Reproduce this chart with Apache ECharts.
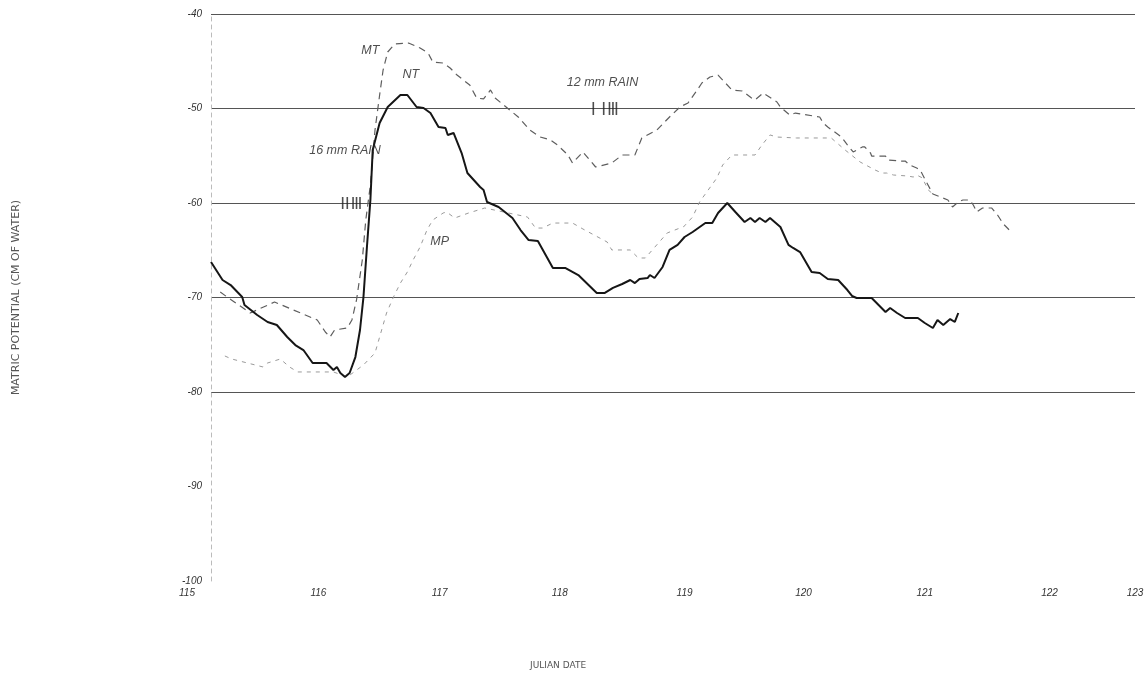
<!DOCTYPE html>
<html>
<head>
<meta charset="utf-8">
<script src="https://cdn.jsdelivr.net/npm/echarts@6/dist/echarts.min.js"></script>
<style>
  html, body { margin: 0; padding: 0; background: #ffffff; }
  #chart { width: 1148px; height: 682px; }
</style>
</head>
<body>
<div id="chart"></div>
<script>
// ---------- DATA ----------
const xTicks = [115, 116, 117, 118, 119, 120, 121, 122, 123];
const yTicks = [-100, -90, -80, -70, -60, -50, -40];

// NT, solid (Julian date, matric potential cm of water)
const ntSolid = [
  [115.00,-66.24],[115.10,-68.15],[115.17,-68.68],[115.27,-69.95],[115.29,-70.79],[115.40,-71.85],
  [115.49,-72.59],[115.57,-72.91],[115.66,-74.18],[115.73,-75.03],[115.80,-75.56],[115.88,-76.93],
  [116.00,-76.93],[116.06,-77.67],[116.09,-77.35],[116.12,-77.99],[116.16,-78.41],[116.20,-77.99],
  [116.25,-76.30],[116.29,-73.44],[116.32,-69.95],[116.35,-64.66],[116.38,-59.68],[116.40,-54.39],
  [116.46,-51.53],[116.53,-49.84],[116.64,-48.57],[116.70,-48.57],[116.78,-49.84],[116.84,-49.95],
  [116.90,-50.48],[116.97,-51.96],[117.03,-52.06],[117.05,-52.80],[117.10,-52.59],[117.17,-54.71],
  [117.22,-56.83],[117.33,-58.31],[117.36,-58.62],[117.39,-59.89],[117.49,-60.42],[117.61,-61.59],
  [117.68,-62.86],[117.75,-63.92],[117.83,-64.02],[117.96,-66.88],[118.07,-66.88],[118.18,-67.62],
  [118.34,-69.52],[118.41,-69.52],[118.48,-68.99],[118.56,-68.57],[118.63,-68.15],[118.67,-68.47],
  [118.71,-68.04],[118.78,-67.94],[118.80,-67.62],[118.84,-67.94],[118.91,-66.77],[118.97,-64.97],
  [119.04,-64.44],[119.10,-63.60],[119.17,-63.07],[119.28,-62.12],[119.34,-62.12],[119.39,-61.06],
  [119.47,-60.00],[119.54,-60.95],[119.62,-62.01],[119.67,-61.59],[119.71,-62.01],[119.75,-61.59],
  [119.80,-62.01],[119.84,-61.59],[119.93,-62.54],[120.00,-64.44],[120.04,-64.76],[120.10,-65.19],
  [120.20,-67.30],[120.27,-67.41],[120.34,-68.04],[120.43,-68.15],[120.51,-69.21],[120.55,-69.84],
  [120.59,-70.05],[120.72,-70.05],[120.84,-71.53],[120.88,-71.11],[120.94,-71.64],[121.01,-72.17],
  [121.12,-72.17],[121.18,-72.70],[121.25,-73.23],[121.29,-72.38],[121.34,-72.91],[121.40,-72.28],
  [121.44,-72.59],[121.47,-71.64]
];

// upper dashed curve
const mtDashed = [
  [115.08,-69.42],[115.14,-69.95],[115.34,-71.64],[115.55,-70.48],[115.92,-72.38],[115.99,-73.65],
  [116.03,-74.18],[116.07,-73.44],[116.18,-73.23],[116.22,-72.38],[116.26,-70.26],[116.31,-66.03],
  [116.34,-61.80],[116.38,-58.10],[116.42,-52.28],[116.46,-48.57],[116.49,-45.93],[116.53,-44.02],
  [116.59,-43.17],[116.71,-43.07],[116.81,-43.60],[116.88,-44.13],[116.92,-45.08],[117.01,-45.19],
  [117.07,-45.71],[117.13,-46.46],[117.24,-47.51],[117.30,-48.89],[117.36,-48.99],[117.42,-48.04],
  [117.46,-48.89],[117.66,-50.90],[117.76,-52.28],[117.85,-53.02],[117.94,-53.33],[118.00,-53.86],
  [118.09,-54.92],[118.13,-55.77],[118.22,-54.60],[118.33,-56.19],[118.47,-55.77],[118.56,-54.92],
  [118.67,-54.92],[118.73,-53.12],[118.86,-52.28],[118.97,-50.90],[119.06,-49.84],[119.13,-49.42],
  [119.21,-48.04],[119.25,-47.30],[119.32,-46.67],[119.39,-46.46],[119.51,-48.04],[119.60,-48.15],
  [119.68,-48.89],[119.71,-49.10],[119.78,-48.36],[119.90,-49.31],[119.93,-49.84],[120.01,-50.69],
  [120.06,-50.48],[120.27,-50.90],[120.30,-51.53],[120.34,-51.96],[120.46,-53.02],[120.51,-53.86],
  [120.56,-54.60],[120.64,-54.07],[120.66,-54.07],[120.71,-54.71],[120.72,-55.03],[120.84,-55.03],
  [120.86,-55.45],[120.97,-55.56],[121.01,-55.56],[121.05,-55.98],[121.11,-56.30],[121.14,-56.51],
  [121.18,-57.46],[121.25,-59.05],[121.38,-59.68],[121.42,-60.42],[121.47,-59.89],[121.51,-59.68],
  [121.57,-59.68],[121.60,-60.21],[121.63,-60.95],[121.68,-60.53],[121.76,-60.53],[121.81,-61.27],
  [121.86,-62.22],[121.92,-62.96]
];

// MP, lighter dashed curve
const mpDashed = [
  [115.12,-76.19],[115.18,-76.51],[115.45,-77.35],[115.49,-76.93],[115.60,-76.51],[115.68,-77.35],
  [115.75,-77.88],[116.06,-77.88],[116.18,-78.41],[116.32,-77.14],[116.42,-75.87],[116.46,-74.18],
  [116.52,-71.64],[116.58,-69.95],[116.64,-68.47],[116.70,-67.30],[116.75,-66.03],[116.81,-64.66],
  [116.87,-62.86],[116.92,-61.80],[117.01,-61.06],[117.04,-60.95],[117.11,-61.59],[117.23,-61.06],
  [117.37,-60.53],[117.74,-61.48],[117.81,-62.65],[117.87,-62.65],[117.96,-62.12],[118.13,-62.12],
  [118.22,-62.75],[118.43,-64.13],[118.47,-64.97],[118.63,-64.97],[118.70,-65.82],[118.76,-65.82],
  [118.95,-63.17],[119.06,-62.65],[119.09,-62.54],[119.17,-61.48],[119.23,-59.89],[119.38,-57.35],
  [119.43,-55.98],[119.51,-54.92],[119.71,-54.92],[119.77,-53.86],[119.84,-52.80],[119.90,-53.02],
  [120.07,-53.12],[120.17,-53.12],[120.37,-53.12],[120.49,-54.39],[120.62,-55.66],[120.75,-56.51],
  [120.81,-56.83],[120.85,-56.83],[120.91,-57.04],[121.03,-57.14],[121.08,-57.25],[121.11,-57.04],
  [121.16,-57.35],[121.18,-57.88],[121.21,-58.62],[121.25,-59.05]
];

// rain events (Julian date of each tick mark, drawn on the nearby grid line)
const rain16Times = [116.14, 116.18, 116.23, 116.26, 116.29];
const rain16Level = -60;
const rain12Times = [118.31, 118.40, 118.45, 118.48, 118.51];
const rain12Level = -50;

// annotation texts
const annotationTexts = ['16 mm RAIN', '12 mm RAIN', 'NT', 'MT', 'MP'];

// ---------- LAYOUT (positions of annotation texts / label nudges) ----------
const annotationPos = [[116.16,-54.4],[118.39,-47.2],[116.73,-46.4],[116.38,-43.9],[116.98,-64.1]];
const xLabelNudge = [0, -0.07, -0.02, 0.02, 0.10, 0.13, 0.18, 0.26, 0];

const chart = echarts.init(document.getElementById('chart'), null, { renderer: 'canvas' });

const labelFont = { fontFamily: 'Liberation Sans, Arial, sans-serif', fontStyle: 'italic', fontSize: 10, color: '#333' };

const option = {
  backgroundColor: '#ffffff',
  animation: false,
  grid: { left: 211, right: 13, top: 14, bottom: 101, containLabel: false },
  xAxis: {
    type: 'value',
    min: 115, max: 123, interval: 1,
    axisLine: { show: false },
    axisTick: { show: false },
    splitLine: { show: false },
    axisLabel: Object.assign({}, labelFont, {
      margin: 7,
      customValues: xTicks.map((v, i) => v + xLabelNudge[i]),
      formatter: function (v) {
        const r = Math.round(v);
        return r === 115 ? '{s|' + r + '}' : String(r);
      },
      rich: { s: Object.assign({}, labelFont, { padding: [0, 48, 0, 0] }) }
    })
  },
  yAxis: {
    type: 'value',
    min: -100, max: -40, interval: 10,
    name: 'MATRIC POTENTIAL (CM OF WATER)',
    nameLocation: 'middle',
    nameGap: 189,
    nameRotate: 90,
    nameTextStyle: { fontFamily: 'DejaVu Sans, sans-serif', fontSize: 11, color: '#555' },
    axisLine: { show: true, lineStyle: { color: '#bbb', type: [4, 4], width: 1 } },
    axisTick: { show: false },
    axisLabel: Object.assign({}, labelFont, { margin: 9 }),
    splitLine: {
      show: true,
      lineStyle: {
        color: ['rgba(0,0,0,0)', 'rgba(0,0,0,0)', '#555', '#555', '#555', '#555', '#555'],
        width: 1
      }
    }
  },
  series: [
    {
      name: 'MP', type: 'line', data: mpDashed, showSymbol: false, symbol: 'none',
      lineStyle: { color: '#9a9a9a', width: 1, type: [4, 5] }, z: 2
    },
    {
      name: 'MT', type: 'line', data: mtDashed, showSymbol: false, symbol: 'none',
      lineStyle: { color: '#5e5e5e', width: 1.2, type: [7, 5] }, z: 3
    },
    {
      name: 'NT', type: 'line', data: ntSolid, showSymbol: false, symbol: 'none',
      lineStyle: { color: '#161616', width: 2 }, z: 4
    },
    {
      name: 'rain16', type: 'scatter', symbol: 'rect', symbolSize: [1.6, 12],
      data: rain16Times.map(t => [t, rain16Level]),
      itemStyle: { color: '#222' }, z: 5
    },
    {
      name: 'rain12', type: 'scatter', symbol: 'rect', symbolSize: [1.6, 13],
      data: rain12Times.map(t => [t, rain12Level]),
      itemStyle: { color: '#222' }, z: 5
    },
    {
      name: 'annotations', type: 'scatter', symbolSize: 0,
      data: annotationTexts.map((t, i) => ({ value: annotationPos[i], name: t })),
      label: {
        show: true, position: 'inside',
        formatter: p => p.name,
        fontFamily: 'Liberation Sans, Arial, sans-serif', fontStyle: 'italic', fontSize: 12.5, color: '#222'
      },
      z: 6
    }
  ],
  graphic: [
    {
      type: 'text', left: 530, top: 661,
      style: { text: 'JULIAN DATE', font: '9px "DejaVu Sans", sans-serif', fill: '#555' }
    }
  ]
};

chart.setOption(option);
</script>
</body>
</html>
